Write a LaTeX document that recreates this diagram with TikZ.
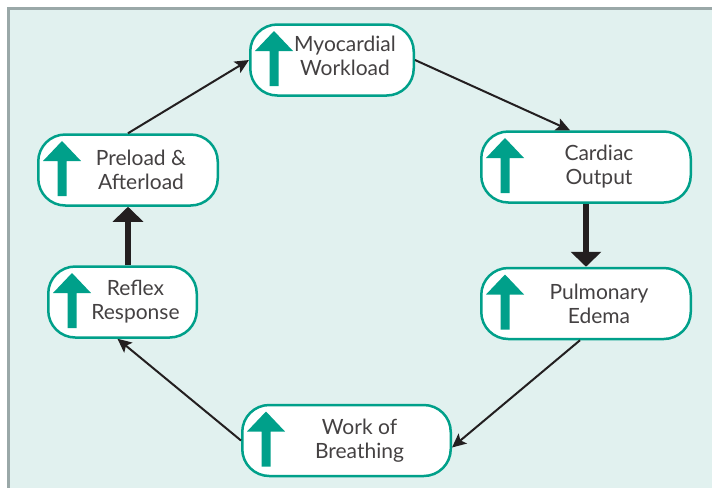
\documentclass[tikz,border=0pt]{standalone}
\usepackage{fontspec}
\setmainfont{Lato}
\usetikzlibrary{arrows.meta}

\definecolor{bgteal}{HTML}{E1F1EF}
\definecolor{boxteal}{HTML}{00A08A}
\definecolor{framegray}{HTML}{9AA8A8}
\definecolor{inkgray}{HTML}{231F20}

\tikzset{
  cyclebox/.style={draw=boxteal, fill=white, line width=2.5pt, rounded corners=27pt, inner sep=0pt, minimum height=71pt},
  boxtext/.style={align=center, text=inkgray!85, font=\fontsize{21}{24}\selectfont, xshift=13pt},
  thinarrow/.style={line width=2pt, draw=inkgray, -{Stealth[length=14pt,width=13pt,inset=3pt]}},
  thickarrow/.style={line width=6.5pt, draw=inkgray, -{Triangle[length=15pt,width=30pt]}}
}

\newcommand\upicon[1]{\fill[boxteal, shift={(#1.west)}, shift={(25,-29)}] (0,0) -- (19,20) -- (4.5,20) -- (4.5,55) -- (-4.5,55) -- (-4.5,20) -- (-19,20) -- cycle;}

\begin{document}
\begin{tikzpicture}[x=1pt, y=-1pt]

\useasboundingbox (0,0) rectangle (712,488);

\fill [white] (0,0) rectangle (712,488);
\fill [bgteal] (10,10) rectangle (712,488);
\fill [framegray] (7,7) rectangle (712,10);
\fill [framegray] (7,7) rectangle (10,488);

\node[cyclebox, minimum width=163.5pt, label={[boxtext, yshift=4pt]center:Myocardial\\Workload}] (myo) at (332,60) {};

\node[cyclebox, minimum width=209.5pt, label={[boxtext]center:Cardiac\\Output}] (card) at (586,167) {};

\node[cyclebox, minimum width=209.5pt, label={[boxtext]center:Pulmonary\\Edema}] (pulm) at (586,303.5) {};

\node[cyclebox, minimum width=208.5pt, label={[boxtext]center:Work of\\Breathing}] (work) at (346.5,440.5) {};

\node[cyclebox, minimum width=148.5pt, label={[boxtext]center:Reflex\\Response}] (refl) at (122.5,302) {};

\node[cyclebox, minimum width=179.5pt, label={[boxtext]center:Preload \&\\Afterload}] (prel) at (128,170) {};

\upicon{myo}
\upicon{card}
\upicon{pulm}
\upicon{work}
\upicon{refl}
\upicon{prel}

\draw[thinarrow] (prel.north) -- (myo.west);
\draw[thinarrow] (myo.east) -- ([xshift=-16pt]card.north);
\draw[thickarrow] (card.south) -- (pulm.north);
\draw[thinarrow] ([xshift=-6pt]pulm.south) -- ([yshift=-7pt]work.east);
\draw[thinarrow] (work.west) -- ([xshift=-5pt]refl.south);
\draw[thickarrow] (prel.south |- refl.north) -- (prel.south);

\end{tikzpicture}
\end{document}
